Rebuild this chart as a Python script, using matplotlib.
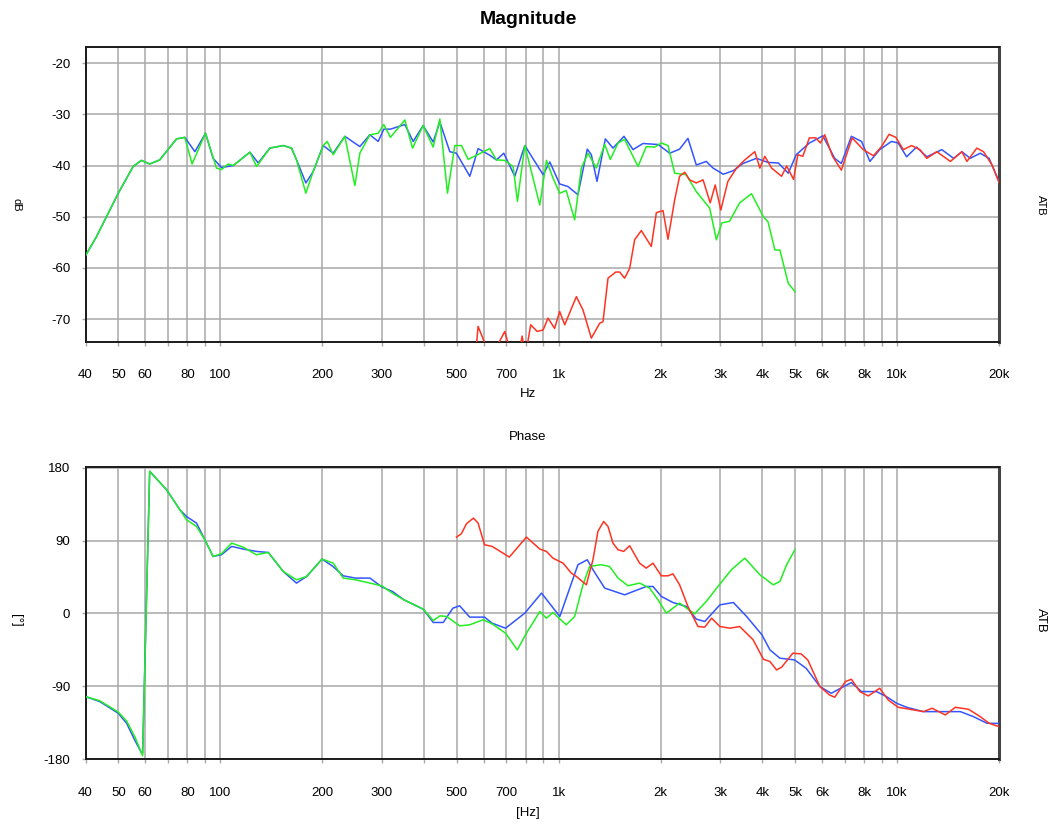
import matplotlib
matplotlib.use("Agg")
import matplotlib.pyplot as plt
import numpy as np

plt.rcParams['font.family'] = ['Liberation Sans', 'DejaVu Sans']
plt.rcParams['axes.unicode_minus'] = False

# ---------------- Magnitude data (Hz, dB) ----------------
mag_blue_f = [40, 43.1, 50, 55.3, 58.5, 61.9, 66.3, 74.3, 78.6, 84.2, 90.5, 95.3, 100.9, 109.3, 122.4, 129.5,
              140.2, 153.6, 162.5, 168.1, 179.1, 188.2, 201.5, 215.7, 233.5, 258.6, 276.8, 292.9, 304.4, 318.5,
              351.2, 371.7, 397.7, 425.8, 445.6, 476.9, 499, 546.4, 578.3, 626, 655, 688.5, 742, 794.3, 899.7,
              941.5, 1007, 1065, 1140, 1215, 1249, 1298, 1374, 1447, 1560, 1659, 1775, 1968, 2128, 2277, 2410,
              2551, 2730, 2859, 3064, 3283, 3503, 3840, 4156, 4455, 4768, 5033, 5506, 6035, 6540, 6843, 7327,
              7850, 8310, 8882, 9620, 10070, 10670, 11410, 12240, 13550, 14690, 15540, 16440, 17600, 18700, 20000]
mag_blue = [-57.6, -53.9, -45.4, -40.2, -39.0, -39.7, -38.9, -34.8, -34.5, -37.3, -33.7, -38.6, -40.4, -40.0,
            -37.4, -39.5, -36.6, -36.1, -36.6, -38.9, -43.4, -41.2, -36.1, -37.6, -34.3, -36.3, -34.0, -35.3,
            -32.9, -32.9, -32.0, -35.3, -32.2, -35.4, -31.5, -37.3, -37.6, -42.1, -36.7, -38.0, -38.9, -37.6,
            -42.1, -36.1, -41.8, -39.3, -43.6, -44.1, -45.7, -36.8, -37.9, -43.1, -34.8, -36.6, -34.3, -36.9,
            -35.7, -35.9, -37.6, -36.8, -34.7, -39.9, -39.2, -40.5, -41.7, -41.0, -39.6, -38.6, -39.4, -39.5,
            -41.5, -37.9, -35.6, -34.2, -38.6, -39.6, -34.3, -35.3, -39.2, -36.9, -35.3, -35.6, -38.3, -36.4,
            -38.3, -36.9, -38.6, -37.3, -38.6, -37.6, -38.6, -43.1]

mag_green_f = [40, 43.1, 50, 55.3, 58.5, 61.9, 66.3, 74.3, 78.6, 82.6, 90.5, 97.5, 100.9, 105.6, 109.3, 122.4,
               128.1, 140.2, 153.6, 162.5, 168.1, 179.1, 188.2, 201.5, 207.1, 215.7, 233.5, 250, 258.6, 276.8,
               292.9, 304.4, 318.5, 351.2, 370, 397.7, 425.8, 445.6, 469.4, 493.4, 516.3, 540.3, 571.8, 626,
               655, 693, 733.7, 755.6, 794.3, 879.6, 920.4, 963, 1007, 1053, 1115, 1167, 1221, 1292, 1368, 1421,
               1498, 1566, 1716, 1815, 1922, 2011, 2104, 2202, 2383, 2551, 2793, 2925, 3035, 3197, 3425, 3713,
               4027, 4156, 4354, 4505, 4768, 4988]
mag_green = [-57.6, -53.9, -45.4, -40.2, -39.0, -39.7, -38.9, -34.8, -34.5, -39.7, -33.7, -40.5, -40.8, -39.7,
             -40.0, -37.4, -40.2, -36.6, -36.1, -36.6, -38.9, -45.4, -41.2, -36.1, -35.3, -37.9, -34.3, -43.9,
             -37.6, -34.0, -33.7, -32.0, -34.5, -31.1, -36.6, -32.2, -36.4, -30.9, -45.4, -36.1, -36.1, -38.8,
             -38.0, -36.7, -38.9, -39.0, -40.2, -47.0, -36.1, -47.7, -39.0, -42.5, -45.4, -44.9, -50.6, -40.5,
             -37.6, -40.5, -35.9, -38.8, -35.6, -34.9, -40.2, -36.3, -36.4, -35.6, -36.1, -41.5, -41.8, -45.1,
             -48.3, -54.5, -51.2, -50.9, -47.3, -45.5, -50.0, -51.0, -56.5, -56.5, -63.0, -64.6]

mag_red_f = [570, 578, 612, 655, 693, 715, 770, 780, 790, 810, 827, 864, 900, 930, 973, 1007, 1042, 1128, 1180,
             1249, 1322, 1352, 1399, 1475, 1515, 1566, 1621, 1677, 1755, 1878, 1944, 2034, 2104, 2202, 2277,
             2357, 2437, 2551, 2671, 2804, 2901, 3014, 3162, 3355, 3549, 3798, 3931, 4066, 4258, 4556, 4716,
             4943, 5091, 5264, 5506, 5754, 5933, 6112, 6446, 6843, 7362, 7944, 8512, 8997, 9470, 9915, 10430,
             11030, 11680, 12240, 13100, 14370, 15540, 16080, 17200, 18000, 19080, 20000]
mag_red = [-76.0, -71.4, -75.5, -75.5, -72.4, -75.5, -75.5, -73.3, -75.5, -74.6, -71.1, -72.4, -72.1, -69.8,
           -71.8, -68.5, -71.1, -65.6, -68.2, -73.7, -70.8, -70.5, -62.0, -60.8, -60.8, -62.0, -60.1, -54.5,
           -52.7, -55.8, -49.2, -48.8, -54.4, -46.7, -42.1, -41.3, -42.8, -43.4, -42.8, -47.3, -43.8, -48.7,
           -43.1, -40.5, -38.9, -37.3, -40.5, -38.2, -40.5, -42.1, -40.1, -42.7, -37.9, -38.2, -34.6, -34.6,
           -35.6, -34.0, -38.2, -40.9, -34.6, -36.9, -38.1, -36.3, -33.9, -34.5, -36.9, -36.1, -36.9, -38.6,
           -37.3, -39.2, -37.3, -39.2, -36.6, -37.3, -39.9, -43.3]

# ---------------- Phase data (Hz, degrees) ----------------
ph_blue_f = [40, 44.1, 50, 52.9, 55.9, 58.5, 59.0, 61.9, 69.4, 76.0, 79.5, 85.1, 90.1, 95.3, 100.9, 108.1, 117,
             128, 138.7, 153.6, 168, 180, 200, 215.7, 231, 251, 277, 301, 323, 349, 398, 426, 456, 487, 510,
             546, 604, 636, 697, 794, 890, 1008, 1140, 1215, 1263, 1368, 1566, 1815, 1900, 2011, 2176, 2383,
             2551, 2702, 2995, 3283, 3592, 3987, 4210, 4505, 4977, 5384, 5914, 6390, 6954, 7327, 7850, 8693,
             9302, 9958, 10670, 11960, 13400, 15380, 16810, 18430, 20000]
ph_blue = [-102.8, -109, -123.4, -135.8, -156.5, -172.1, -172.5, 175.9, 153.2, 128.4, 120, 111.9, 91.2, 70.6,
           72.7, 83, 79.7, 76.8, 75.5, 52, 37.6, 45.8, 67.3, 58, 46.6, 43.8, 43.8, 32.6, 27.2, 16.9, 5.4, -11.1,
           -11.1, 6.6, 9.5, -4.5, -4.5, -12, -18.2, 0.4, 25.2, -3.7, 60.3, 66.5, 54.1, 31.4, 23.1, 33.4, 33.4,
           21.1, 13.6, 8.7, -7.0, -9.9, 10.7, 13.6, -3.7, -26.4, -45, -55.3, -57.4, -67.7, -90.4, -98.7, -90.4,
           -85.4, -96.6, -96.6, -102.8, -111, -116, -121.4, -121.4, -121.4, -127.6, -135.8, -136]

ph_green_f = [40, 44.1, 50, 52.9, 55.9, 59.0, 61.9, 69.4, 76.0, 79.5, 85.1, 90.1, 95.3, 100.9, 108.1, 117, 128,
              138.7, 153.6, 168, 180, 200, 215.7, 231, 251, 277, 301, 323, 349, 398, 426, 446, 467, 510, 546,
              598, 636, 697, 755, 803, 880, 920, 962, 1053, 1115, 1180, 1234, 1336, 1414, 1498, 1603, 1734, 1857,
              1966, 2080, 2277, 2522, 2730, 2955, 3238, 3549, 3931, 4306, 4505, 4716, 4988]
ph_green = [-102.8, -108, -122, -133, -152, -176, 176, 153.2, 128.4, 116, 107.7, 91.2, 70.6, 74, 87.1, 82, 72.7,
            75.5, 52, 41.7, 45.8, 67.3, 62.3, 43.8, 41.7, 37.6, 34, 25, 16.9, 5.4, -8.7, -2.9, -3.7, -15.3, -14,
            -7.8, -12.8, -24.4, -45, -24.4, 2.5, -5.8, 1.2, -14, -3.7, 35.5, 58.2, 60.3, 58.2, 43.8, 34.3, 37.6,
            31.4, 16.9, 0.4, 12.8, -0.4, 14.9, 33.4, 54.1, 68.5, 47.9, 35.5, 39.6, 60.3, 78.8]

ph_red_f = [499, 516, 534, 560, 578, 604, 636, 715, 803, 880, 920, 962, 1030, 1090, 1128, 1207, 1263, 1306,
            1358, 1399, 1447, 1498, 1556, 1621, 1734, 1815, 1900, 2011, 2104, 2176, 2277, 2410, 2580, 2702,
            2831, 2995, 3207, 3425, 3630, 3755, 4027, 4210, 4403, 4556, 4920, 5205, 5445, 5914, 6310, 6540,
            7035, 7327, 7760, 8220, 8882, 9408, 10070, 10910, 11960, 12690, 13880, 14860, 16260, 17600, 18700,
            20000]
ph_red = [94.5, 98.7, 111, 118, 111.9, 85, 83, 69.8, 94.5, 79.7, 76.8, 68.5, 62.3, 50, 45.8, 35.5, 66.5, 101.5,
          113.9, 107.7, 87.1, 78.8, 76.8, 83.8, 62.3, 56.1, 62.3, 46.6, 46.6, 49.1, 35.5, 8.7, -16.1, -16.9, -5.8,
          -16.1, -18.2, -16.1, -26.4, -32.6, -56.6, -59.4, -69.8, -66.5, -49.1, -50, -57.4, -90.4, -100.7, -103.6,
          -84.2, -81.3, -96.6, -102, -92.5, -106.9, -116, -118.5, -121.4, -117.2, -125.5, -116, -118.5, -127.6,
          -135.8, -140]

# ---------------- Axis ticks ----------------
grid_freqs = [40, 50, 60, 70, 80, 90, 100, 200, 300, 400, 500, 600, 700, 800, 900, 1000,
              2000, 3000, 4000, 5000, 6000, 7000, 8000, 9000, 10000, 20000]
freq_labels = {40: '40', 50: '50', 60: '60', 80: '80', 100: '100', 200: '200', 300: '300', 500: '500',
               700: '700', 1000: '1k', 2000: '2k', 3000: '3k', 4000: '4k', 5000: '5k', 6000: '6k',
               8000: '8k', 10000: '10k', 20000: '20k'}
mag_ticks = [-20, -30, -40, -50, -60, -70]
phase_ticks = [180, 90, 0, -90, -180]

BLUE = '#3355ff'
GREEN = '#22ee22'
RED = '#ff3322'
GRID = '#a8a8a8'

fig = plt.figure(figsize=(10.53, 8.24), dpi=100)
W, H = 1053, 824
ax1 = fig.add_axes([85.5 / W, 1 - 341.7 / H, (999 - 85.5) / W, (341.7 - 46.7) / H])
ax2 = fig.add_axes([85.5 / W, 1 - 759.0 / H, (999 - 85.5) / W, (759.0 - 466.7) / H])


def style(ax, yticks, ylim):
    ax.set_xscale('log')
    ax.set_xlim(40, 20000)
    ax.set_ylim(*ylim)
    ax.set_xticks(grid_freqs)
    ax.set_xticklabels([freq_labels.get(f, '') for f in grid_freqs])
    ax.xaxis.set_minor_locator(matplotlib.ticker.NullLocator())
    ax.set_yticks(yticks)
    ax.set_yticklabels([str(t) for t in yticks])
    ax.grid(True, which='major', color=GRID, linewidth=1.1)
    ax.set_axisbelow(True)
    ax.tick_params(axis='x', direction='out', length=3, width=1, color=GRID, pad=17, labelsize=9.5)
    ax.tick_params(axis='y', direction='out', length=3, width=1, color=GRID, pad=8, labelsize=9.5)
    for s in ['top', 'left', 'bottom']:
        ax.spines[s].set_color('#1a1a1a')
        ax.spines[s].set_linewidth(1.4)
    ax.spines['right'].set_color('#444444')
    ax.spines['right'].set_linewidth(2.2)


style(ax1, mag_ticks, (-74.4, -16.8))
style(ax2, phase_ticks, (-180, 181.6))

lw = 1.1
ax1.plot(mag_blue_f, mag_blue, color=BLUE, lw=lw, zorder=3)
ax1.plot(mag_green_f, mag_green, color=GREEN, lw=lw, zorder=4)
ax1.plot(mag_red_f, mag_red, color=RED, lw=lw, zorder=5)

ax2.plot(ph_blue_f, ph_blue, color=BLUE, lw=lw, zorder=3)
ax2.plot(ph_green_f, ph_green, color=GREEN, lw=lw, zorder=4)
ax2.plot(ph_red_f, ph_red, color=RED, lw=lw, zorder=5)

fig.text(528 / W, 1 - 20 / H, 'Magnitude', ha='center', va='center', fontsize=14, fontweight='bold')
fig.text(528 / W, 1 - 394 / H, 'Hz', ha='center', va='center', fontsize=9.5)
fig.text(528 / W, 1 - 437 / H, 'Phase', ha='center', va='center', fontsize=9.5)
fig.text(528 / W, 1 - 813 / H, '[Hz]', ha='center', va='center', fontsize=9.5)
fig.text(16 / W, 1 - 205 / H, 'dB', ha='center', va='center', fontsize=8, rotation=-90)
fig.text(16 / W, 1 - 620 / H, '[°]', ha='center', va='center', fontsize=9.5, rotation=-90)
fig.text(1041 / W, 1 - 205 / H, 'ATB', ha='center', va='center', fontsize=8, rotation=-90)
fig.text(1041 / W, 1 - 620 / H, 'ATB', ha='center', va='center', fontsize=9.5, rotation=-90)

fig.savefig('out.png', dpi=100)
